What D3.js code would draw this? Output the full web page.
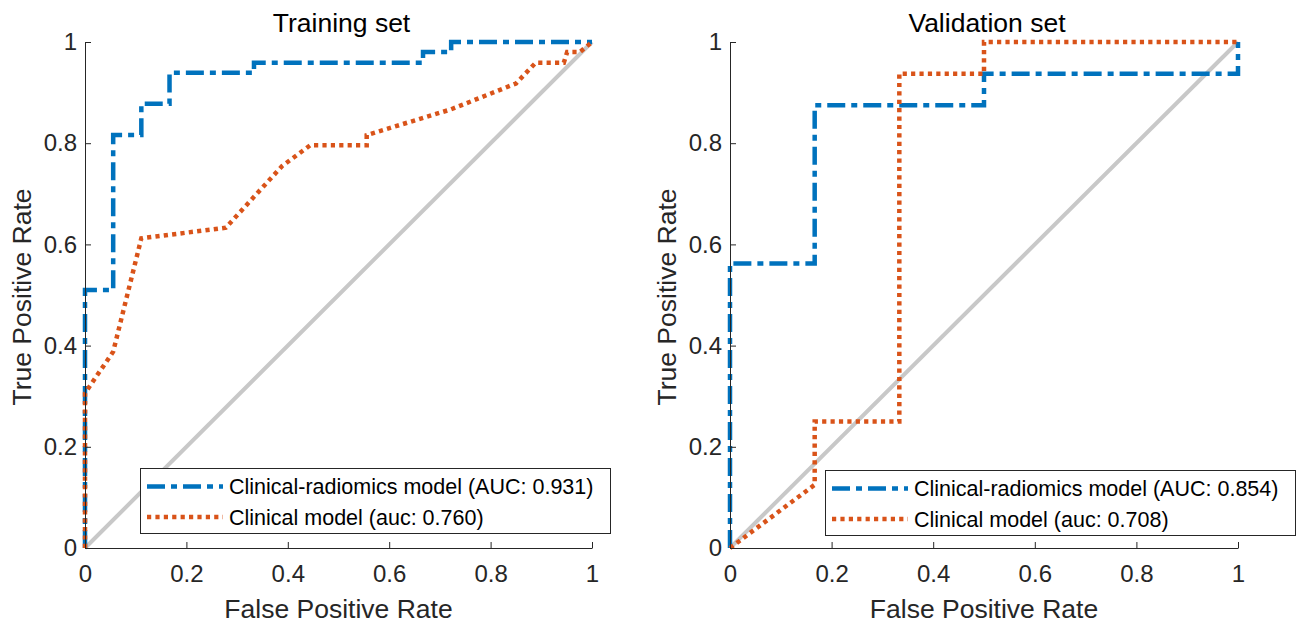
<!DOCTYPE html>
<html>
<head>
<meta charset="utf-8">
<script src="https://cdn.jsdelivr.net/npm/d3@7"></script>
<style>
  body { margin: 0; background: #fff; }
  svg { font-family: "Liberation Sans", Arial, sans-serif; }
  .axis path, .axis line { stroke: #262626; stroke-width: 1; }
  .axis text { fill: #262626; font-size: 24px; font-family: "Liberation Sans", Arial, sans-serif; }
</style>
</head>
<body>
<script>
// tick values and labels (both axes)
var tickValues = [0, 0.2, 0.4, 0.6, 0.8, 1];
var tickLabels = ["0", "0.2", "0.4", "0.6", "0.8", "1"];

// Training set ROC curves
var trainRadFPR = [0, 0, 0.0556, 0.0556, 0.1111, 0.1111, 0.1667, 0.1667, 0.3333, 0.3333, 0.6667, 0.6667, 0.7222, 0.7222, 1];
var trainRadTPR = [0, 0.510, 0.510, 0.816, 0.816, 0.878, 0.878, 0.939, 0.939, 0.959, 0.959, 0.980, 0.980, 1, 1];
var trainCliFPR = [0, 0, 0.0556, 0.1111, 0.2778, 0.3333, 0.3889, 0.4444, 0.5556, 0.5556, 0.7222, 0.85, 0.8889, 0.9444, 0.951, 0.976, 1];
var trainCliTPR = [0, 0.306, 0.388, 0.612, 0.633, 0.694, 0.755, 0.796, 0.796, 0.816, 0.867, 0.918, 0.959, 0.959, 0.980, 0.980, 1];

// Validation set ROC curves
var valRadFPR = [0, 0, 0.1667, 0.1667, 0.5, 0.5, 1, 1];
var valRadTPR = [0, 0.5625, 0.5625, 0.875, 0.875, 0.9375, 0.9375, 1];
var valCliFPR = [0, 0.1667, 0.1667, 0.3333, 0.3333, 0.5, 0.5, 1];
var valCliTPR = [0, 0.125, 0.25, 0.25, 0.9375, 0.9375, 1, 1];

// chance line
var chanceFPR = [0, 1];
var chanceTPR = [0, 1];

var titles = ["Training set", "Validation set"];
var trainLegend = ["Clinical-radiomics model (AUC: 0.931)", "Clinical model (auc: 0.760)"];
var valLegend = ["Clinical-radiomics model (AUC: 0.854)", "Clinical model (auc: 0.708)"];

var blue = "#0072BD", orange = "#D95319", grey = "#C8C8C8";
var dashDot = "18,6,6,6", dotted = "4.2,4.2";

function zipXY(xs, ys) {
  return xs.map(function(x, i) { return {x: x, y: ys[i]}; });
}

var svg = d3.select("body").append("svg")
    .attr("width", 1296)
    .attr("height", 623);

function drawPanel(cfg) {
  var x = d3.scaleLinear().domain([0, 1]).range([cfg.left, cfg.right]);
  var y = d3.scaleLinear().domain([0, 1]).range([548, 42]);

  var line = d3.line()
      .x(function(d) { return x(d.x); })
      .y(function(d) { return y(d.y); });

  var g = svg.append("g");

  // chance line
  g.append("path")
      .datum(zipXY(chanceFPR, chanceTPR))
      .attr("fill", "none")
      .attr("stroke", grey)
      .attr("stroke-width", 4)
      .attr("d", line);

  // radiomics curve
  g.append("path")
      .datum(zipXY(cfg.radFPR, cfg.radTPR))
      .attr("fill", "none")
      .attr("stroke", blue)
      .attr("stroke-width", 4.5)
      .attr("stroke-dasharray", dashDot)
      .attr("d", line);

  // clinical curve
  g.append("path")
      .datum(zipXY(cfg.cliFPR, cfg.cliTPR))
      .attr("fill", "none")
      .attr("stroke", orange)
      .attr("stroke-width", 4.5)
      .attr("stroke-dasharray", dotted)
      .attr("d", line);

  // axes
  g.append("g")
      .attr("class", "axis")
      .attr("transform", "translate(0,548)")
      .call(d3.axisBottom(x).tickValues(tickValues)
        .tickFormat(function(d, i) { return tickLabels[i]; })
        .tickSizeInner(-6).tickSizeOuter(0).tickPadding(17));

  g.append("g")
      .attr("class", "axis")
      .attr("transform", "translate(" + cfg.left + ",0)")
      .call(d3.axisLeft(y).tickValues(tickValues)
        .tickFormat(function(d, i) { return tickLabels[i]; })
        .tickSizeInner(-6).tickSizeOuter(0).tickPadding(8));

  var cx = (cfg.left + cfg.right) / 2;

  g.append("text")
      .attr("x", cx + 3)
      .attr("y", 32)
      .attr("text-anchor", "middle")
      .attr("font-size", "26.5px")
      .attr("fill", "#000")
      .text(cfg.title);

  g.append("text")
      .attr("x", cx)
      .attr("y", 618)
      .attr("text-anchor", "middle")
      .attr("font-size", "26.5px")
      .attr("fill", "#262626")
      .text("False Positive Rate");

  g.append("text")
      .attr("transform", "translate(" + (cfg.left - 54) + ",297) rotate(-90)")
      .attr("text-anchor", "middle")
      .attr("font-size", "26.5px")
      .attr("fill", "#262626")
      .text("True Positive Rate");

  // legend
  var lg = g.append("g").attr("transform", "translate(" + cfg.legX + "," + cfg.legY + ")");
  lg.append("rect")
      .attr("x", 0.5).attr("y", 0.5)
      .attr("width", 470).attr("height", 65)
      .attr("fill", "#fff")
      .attr("stroke", "#262626")
      .attr("stroke-width", 1);

  var styles = [[blue, dashDot], [orange, dotted]];
  cfg.legend.forEach(function(label, i) {
    var ry = 18.5 + i * 30.5;
    lg.append("line")
        .attr("x1", 7).attr("x2", 83)
        .attr("y1", ry).attr("y2", ry)
        .attr("stroke", styles[i][0])
        .attr("stroke-width", 4.5)
        .attr("stroke-dasharray", styles[i][1]);
    lg.append("text")
        .attr("x", 89)
        .attr("y", ry)
        .attr("dy", "0.35em")
        .attr("font-size", "21.5px")
        .attr("fill", "#000")
        .text(label);
  });
}

drawPanel({
  left: 85, right: 592, title: titles[0],
  radFPR: trainRadFPR, radTPR: trainRadTPR,
  cliFPR: trainCliFPR, cliTPR: trainCliTPR,
  legend: trainLegend, legX: 140, legY: 468
});

drawPanel({
  left: 730, right: 1238, title: titles[1],
  radFPR: valRadFPR, radTPR: valRadTPR,
  cliFPR: valCliFPR, cliTPR: valCliTPR,
  legend: valLegend, legX: 825, legY: 470
});
</script>
</body>
</html>
